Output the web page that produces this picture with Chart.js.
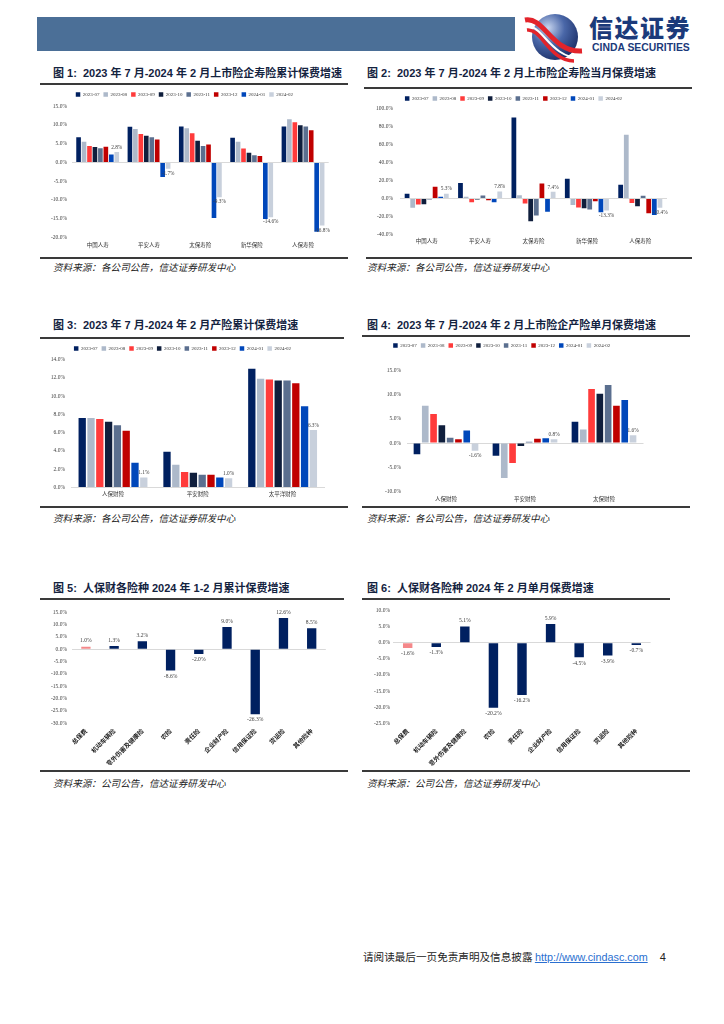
<!DOCTYPE html>
<html><head><meta charset="utf-8">
<script src="https://cdn.jsdelivr.net/npm/chart.js@4.4.1/dist/chart.umd.min.js"></script>
<style>
html,body{margin:0;padding:0;background:#fff;}
body{width:724px;height:1024px;position:relative;overflow:hidden;font-family:"Noto Sans CJK SC","Liberation Sans",sans-serif;}
.abs{position:absolute;}
.title{position:absolute;font-size:11px;font-weight:bold;color:#14233f;white-space:nowrap;font-family:"Liberation Sans","Noto Sans CJK SC",sans-serif;line-height:14px;}
.line{position:absolute;height:2px;background:#3a3a3a;}
.src{position:absolute;font-size:9.6px;font-style:italic;color:#222;white-space:nowrap;line-height:12px;}
.box{position:absolute;}
</style></head>
<body>
<div class="abs" style="left:37px;top:17px;width:478px;height:34px;background:#4b6f97;"></div>
<svg class="abs" style="left:522px;top:11px" width="66" height="52" viewBox="0 0 66 52">
 <defs><radialGradient id="lg" cx="35%" cy="30%" r="80%"><stop offset="0" stop-color="#c6d4ee"/><stop offset="0.45" stop-color="#4a67a8"/><stop offset="1" stop-color="#15285f"/></radialGradient></defs>
 <circle cx="33" cy="26" r="23" fill="url(#lg)"/>
 <path d="M3 9 C 22 5, 30 42, 60 40" stroke="#e3242b" stroke-width="5" fill="none"/>
 <path d="M3 15 C 20 12, 28 47, 58 47" stroke="#ffffff" stroke-width="2" fill="none"/>
 <path d="M5 19 C 20 17, 27 50, 52 50" stroke="#e3242b" stroke-width="3.5" fill="none"/>
</svg>
<div class="abs" style="left:589px;top:12px;font-size:24px;font-weight:900;color:#1b3a7a;letter-spacing:1.5px;line-height:30px;font-family:'Noto Sans CJK SC';">信达证券</div>
<div class="abs" style="left:592px;top:42px;font-size:10.4px;font-weight:bold;color:#1b3a7a;line-height:11px;font-family:'Liberation Sans';">CINDA SECURITIES</div>

<div class="title" style="left:53px;top:66px;">图 1:&nbsp; 2023 年 7 月-2024 年 2 月上市险企寿险累计保费增速</div>
<div class="title" style="left:367px;top:66px;">图 2:&nbsp; 2023 年 7 月-2024 年 2 月上市险企寿险当月保费增速</div>
<div class="line" style="left:40px;top:83px;width:308px;"></div>
<div class="line" style="left:364px;top:87px;width:328px;"></div>
<div class="line" style="left:40px;top:257px;width:308px;"></div>
<div class="line" style="left:366px;top:257px;width:326px;"></div>
<div class="src" style="left:53px;top:261px;">资料来源：各公司公告，信达证券研发中心</div>
<div class="src" style="left:367px;top:261px;">资料来源：各公司公告，信达证券研发中心</div>

<div class="title" style="left:53px;top:318px;">图 3:&nbsp; 2023 年 7 月-2024 年 2 月产险累计保费增速</div>
<div class="title" style="left:367px;top:318px;">图 4:&nbsp; 2023 年 7 月-2024 年 2 月上市险企产险单月保费增速</div>
<div class="line" style="left:40px;top:337px;width:304px;"></div>
<div class="line" style="left:362px;top:335px;width:328px;"></div>
<div class="line" style="left:40px;top:506px;width:308px;"></div>
<div class="line" style="left:362px;top:506px;width:328px;"></div>
<div class="src" style="left:53px;top:512px;">资料来源：各公司公告，信达证券研发中心</div>
<div class="src" style="left:367px;top:512px;">资料来源：各公司公告，信达证券研发中心</div>

<div class="title" style="left:53px;top:581px;">图 5:&nbsp; 人保财各险种 2024 年 1-2 月累计保费增速</div>
<div class="title" style="left:367px;top:581px;">图 6:&nbsp; 人保财各险种 2024 年 2 月单月保费增速</div>
<div class="line" style="left:40px;top:598px;width:304px;"></div>
<div class="line" style="left:362px;top:598px;width:308px;"></div>
<div class="line" style="left:40px;top:770px;width:308px;"></div>
<div class="line" style="left:362px;top:770px;width:328px;"></div>
<div class="src" style="left:53px;top:777px;">资料来源：公司公告，信达证券研发中心</div>
<div class="src" style="left:367px;top:777px;">资料来源：公司公告，信达证券研发中心</div>

<div class="abs" style="left:363px;top:950px;font-size:10.6px;color:#222;white-space:nowrap;line-height:14px;">请阅读最后一页免责声明及信息披露 <span style="font-family:'Liberation Sans';color:#2a6fd0;text-decoration:underline;font-size:10.8px;">http://www.cindasc.com</span><span style="font-family:'Liberation Sans';margin-left:12px;font-size:11px;">4</span></div>

<div class="box" id="b1" style="left:40px;top:87.5px;width:308px;height:162.5px;"><canvas id="c1"></canvas></div>
<div class="box" id="b2" style="left:360px;top:91.5px;width:332px;height:154.5px;"><canvas id="c2"></canvas></div>
<div class="box" id="b3" style="left:40px;top:341.5px;width:305px;height:157.5px;"><canvas id="c3"></canvas></div>
<div class="box" id="b4" style="left:360px;top:338.5px;width:310px;height:165.5px;"><canvas id="c4"></canvas></div>
<div class="box" id="b5" style="left:40px;top:603.7px;width:305px;height:161.3px;"><canvas id="c5"></canvas></div>
<div class="box" id="b6" style="left:360px;top:603.7px;width:310px;height:162.3px;"><canvas id="c6"></canvas></div>

<script>
// ---------- data ----------
const months = ['2023-07','2023-08','2023-09','2023-10','2023-11','2023-12','2024-01','2024-02'];
const lifeCompanies = ['中国人寿','平安人寿','太保寿险','新华保险','人保寿险'];
const pcCompanies3 = ['人保财险','平安财险','太平洋财险'];
const pcCompanies4 = ['人保财险','平安财险','太保财险'];
const piccLines = ['总保费','机动车辆险','意外伤害及健康险','农险','责任险','企业财产险','信用保证险','货运险','其他险种'];

// fig1: life cumulative premium growth (%), one row per month
const fig1Rows = [
  [6.7, 9.5, 9.6, 6.6, 9.6],
  [5.5, 8.9, 9.1, 5.5, 11.5],
  [4.4, 7.6, 7.8, 3.7, 10.7],
  [4.1, 7.1, 5.8, 2.6, 9.9],
  [3.8, 6.7, 4.4, 1.9, 9.6],
  [4.2, 6.1, 4.8, 1.7, 8.6],
  [2.1, -3.9, -14.8, -15.1, -18.5],
  [2.8, -1.7, -9.3, -14.6, -16.8]
];
// fig2: life monthly premium growth (%)
const fig2Rows = [
  [5.2, 17.2, 89.9, 22.0, 15.3],
  [-10.4, 1.9, 3.7, -7.1, 70.9],
  [-6.7, -4.1, -5.6, -10.1, -4.9],
  [-6.3, -1.1, -25.4, -10.8, -8.6],
  [-1.1, 3.4, -19.0, -12.3, 3.0],
  [13.1, -1.9, 16.8, -3.0, -16.4],
  [1.9, -4.1, -14.6, -15.3, -18.3],
  [5.3, 7.8, 7.4, -13.3, -10.4]
];
// fig3: P&C cumulative premium growth (%)
const fig3Rows = [
  [7.6, 3.9, 13.0],
  [7.6, 2.5, 11.9],
  [7.5, 1.7, 11.8],
  [7.2, 1.6, 11.7],
  [6.8, 1.4, 11.7],
  [6.2, 1.4, 11.4],
  [2.7, 1.1, 8.9],
  [1.1, 1.0, 6.3]
];
// fig4: P&C monthly premium growth (%)
const fig4Rows = [
  [-2.3, -2.6, 4.4],
  [7.7, -7.2, 2.8],
  [6.0, -4.1, 11.2],
  [3.7, -0.6, 10.2],
  [1.1, 0.3, 12.0],
  [0.8, 0.9, 7.7],
  [2.6, 1.0, 8.9],
  [-1.6, 0.8, 1.6]
];
// fig5 / fig6: PICC P&C by line (%)
const fig5Values = [1.0, 1.3, 3.2, -8.6, -2.0, 9.0, -26.3, 12.6, 8.5];
const fig6Values = [-1.6, -1.3, 5.1, -20.2, -16.2, 5.9, -4.5, -3.9, -0.7];

// axis ranges [min, max, step]
const fig1Axis = [-20, 15, 5];
const fig2Axis = [-40, 100, 20];
const fig3Axis = [0, 14, 2];
const fig4Axis = [-10, 15, 5];
const fig5Axis = [-30, 15, 5];
const fig6Axis = [-25, 10, 5];

// ---------- styles ----------
const monthColors = ['#002060','#adb9ca','#ff3b3b','#0f1e3c','#5b6f8f','#c00000','#0047ba','#c8d0dc'];
const lineColors = ['#f4888a','#002060','#002060','#002060','#002060','#002060','#002060','#002060','#002060'];
const TICK = '#404040';
const SERIF = "'Liberation Serif','Times New Roman',serif";
const CJK = "'Noto Sans CJK SC',sans-serif";

const legendFix = {
  id: 'legendFix',
  beforeLayout(chart, args, opts) {
    const lg = chart.legend;
    if (lg && opts && opts.height != null && !lg._patched) {
      const orig = lg.fit.bind(lg);
      lg.fit = function(){ orig(); this.height = opts.height; };
      lg._patched = true;
    }
  }
};
const valueLabels = {
  id: 'valueLabels',
  afterDatasetsDraw(chart, args, opts) {
    if (!opts || !opts.enabled) return;
    const ctx = chart.ctx;
    chart.data.datasets.forEach((ds, di) => {
      if (opts.only != null && di !== opts.only) return;
      const meta = chart.getDatasetMeta(di);
      meta.data.forEach((bar, i) => {
        const v = ds.data[i];
        const txt = v.toFixed(1) + '%';
        ctx.save();
        ctx.font = (opts.size || 5.5) + 'px ' + SERIF;
        ctx.fillStyle = opts.color || '#404040';
        ctx.textAlign = 'center';
        const dx = opts.dx || 0;
        if (v >= 0) { ctx.textBaseline = 'bottom'; ctx.fillText(txt, bar.x + dx, bar.y - (opts.gap || 2)); }
        else { ctx.textBaseline = 'top'; ctx.fillText(txt, bar.x + dx, bar.y + (opts.gap || 2)); }
        ctx.restore();
      });
    });
  }
};

function yScale(axis, width, pad) {
  return {
    min: axis[0], max: axis[1],
    ticks: { stepSize: axis[2], padding: pad, color: TICK, font: { size: 5.5, family: SERIF },
             callback: v => v.toFixed(1) + '%' },
    grid: { drawTicks: false, color: c => (c.tick && c.tick.value === 0) ? '#d9d9d9' : 'rgba(0,0,0,0)', lineWidth: 1 },
    border: { display: false },
    afterFit: s => { s.width = width; }
  };
}

function groupChart(id, cats, rows, axis, g) {
  return new Chart(document.getElementById(id), {
    type: 'bar',
    data: {
      labels: cats,
      datasets: rows.map((r, i) => ({
        label: months[i], data: r, backgroundColor: monthColors[i],
        categoryPercentage: g.cp, barPercentage: g.bp, borderWidth: 0
      }))
    },
    options: {
      responsive: true, maintainAspectRatio: false, animation: false,
      layout: { padding: { left: 0, right: g.right, top: 0, bottom: 0 } },
      plugins: {
        legend: { display: true, position: 'top',
          labels: { boxWidth: 4.5, boxHeight: 4.5, padding: 4, color: '#333', font: { size: 5, family: SERIF } } },
        tooltip: { enabled: false },
        legendFix: { height: g.legendH },
        valueLabels: { enabled: true, only: rows.length - 1, size: 5.3, gap: g.gap || 2 }
      },
      scales: {
        x: {
          ticks: { padding: g.xpad, color: '#333', font: { size: 5.5, family: CJK }, autoSkip: false, maxRotation: 0 },
          grid: { display: false, drawTicks: false }, border: { display: false },
          afterFit: s => { s.height = g.xh; }
        },
        y: yScale(axis, g.yw, g.ypad)
      }
    },
    plugins: [legendFix, valueLabels]
  });
}

function lineChart(id, values, axis, g) {
  return new Chart(document.getElementById(id), {
    type: 'bar',
    data: { labels: piccLines, datasets: [{ label: '增速', data: values, backgroundColor: lineColors,
            categoryPercentage: 1, barPercentage: g.bp, borderWidth: 0 }] },
    options: {
      responsive: true, maintainAspectRatio: false, animation: false,
      layout: { padding: { left: 0, right: g.right, top: 0, bottom: 0 } },
      plugins: {
        legend: { display: false }, tooltip: { enabled: false },
        valueLabels: { enabled: true, size: 5.6, gap: 3 }
      },
      scales: {
        x: {
          ticks: { padding: g.xpad, color: '#222', font: { size: 6.2, family: CJK, weight: 'bold' }, autoSkip: false, minRotation: 45, maxRotation: 45 },
          grid: { display: false, drawTicks: false }, border: { display: false },
          afterFit: s => { s.height = g.xh; }
        },
        y: yScale(axis, g.yw, g.ypad)
      }
    },
    plugins: [valueLabels]
  });
}

groupChart('c1', lifeCompanies, fig1Rows, fig1Axis, { cp: 0.85, bp: 0.85, right: 19.3, legendH: 18.2, xh: 13, xpad: 4, yw: 32, ypad: 5 });
groupChart('c2', lifeCompanies, fig2Rows, fig2Axis, { cp: 0.84, bp: 0.85, right: 25, legendH: 16.5, xh: 12, xpad: 3, yw: 40, ypad: 7 });
groupChart('c3', pcCompanies3, fig3Rows, fig3Axis, { cp: 0.83, bp: 0.83, right: 20, legendH: 17.5, xh: 12, xpad: 3, yw: 30.6, ypad: 5.6 });
groupChart('c4', pcCompanies4, fig4Rows, fig4Axis, { cp: 0.84, bp: 0.8, right: 26.5, legendH: 31.5, xh: 13, xpad: 4, yw: 46.5, ypad: 5.5 });
lineChart('c5', fig5Values, fig5Axis, { bp: 0.33, right: 19.2, xh: 42, xpad: 4, yw: 31.8, ypad: 4.8 });
lineChart('c6', fig6Values, fig6Axis, { bp: 0.33, right: 19.4, xh: 43, xpad: 4, yw: 33.4, ypad: 3.4 });
</script>
</body></html>
